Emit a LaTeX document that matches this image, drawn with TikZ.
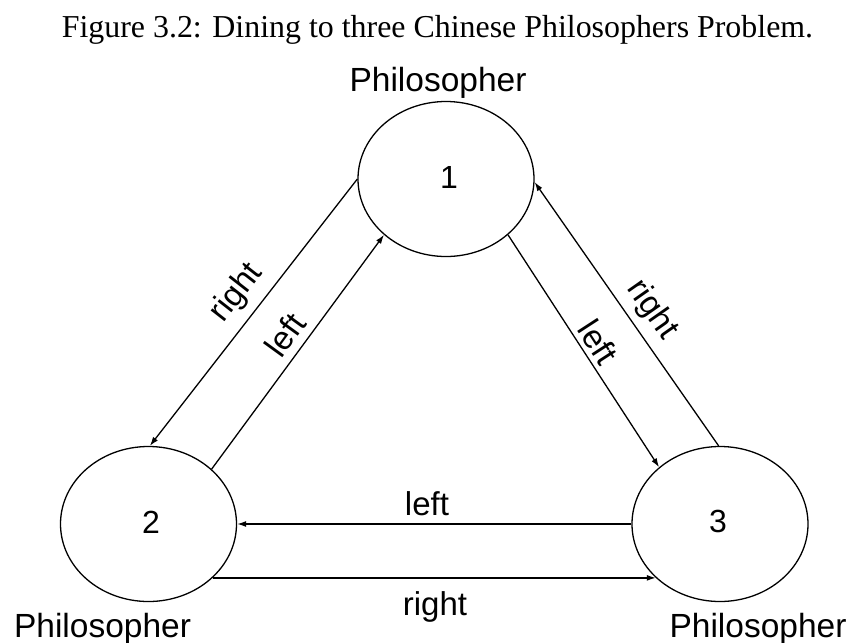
\documentclass[tikz,border=0pt]{standalone}
\usepackage{fontspec}
\setmainfont{Liberation Serif}
\newfontfamily\arialfont{Liberation Sans}
\usetikzlibrary{shapes.geometric,arrows.meta}
\tikzset{
  phil/.style={draw, ellipse, line width=1.3pt, minimum width=176pt, minimum height=155pt, inner sep=0pt},
  numlbl/.style={font=\arialfont\fontsize{32}{36}\selectfont, anchor=base, inner sep=0pt},
  namelbl/.style={font=\arialfont\fontsize{33.5}{38}\selectfont, anchor=base, inner sep=0pt},
  edgelbl/.style={font=\arialfont\fontsize{33}{38}\selectfont, inner sep=0pt},
  link/.style={line width=1.3pt, -{Latex[length=9pt,width=6pt]}},
}
\begin{document}
\begin{tikzpicture}[x=1pt,y=-1pt]
\useasboundingbox (0,0) rectangle (855,643);
\node[font=\fontsize{31.9}{36}\selectfont, anchor=base, inner sep=0pt] (title) at (437.5,37) {Figure 3.2: Dining to three Chinese Philosophers Problem.};

\node[phil] (p1) at (446,179) {};
\node[phil] (p2) at (148.5,524) {};
\node[phil] (p3) at (720,524) {};

\node[numlbl] (n1) at (449,188) {1};
\node[numlbl] (n2) at (151,533) {2};
\node[numlbl] (n3) at (718,532) {3};

\node[namelbl] (l1) at (438,91) {Philosopher};
\node[namelbl] (l2) at (102.5,637) {Philosopher};
\node[namelbl] (l3) at (758,637) {Philosopher};

% 1 -> 2 (right), 2 -> 1 (left)
\draw[link] (p1.180.6) -- (p2.89);
\draw[link] (p2.41.4) -- (p1.222.6);
% 1 -> 3 (left), 3 -> 1 (right)
\draw[link] (p1.318.8) -- (p3.137.9);
\draw[link] (p3.91.4) -- (p1.358.7);
% 3 -> 2 (left), 2 -> 3 (right)
\draw[link] (p3.180) -- (p2.0);
\draw[link] (p2.320) -- (p3.220.6);

\node[edgelbl, rotate=52] (e12) at (237,293) {right};
\node[edgelbl, rotate=54] (e21) at (285,335) {left};
\node[edgelbl, rotate=-57] (e13) at (598,342) {left};
\node[edgelbl, rotate=-55] (e31) at (652,310) {right};
\node[edgelbl, anchor=base] (e32) at (427,515) {left};
\node[edgelbl, anchor=base] (e23) at (435,615) {right};
\end{tikzpicture}
\end{document}
